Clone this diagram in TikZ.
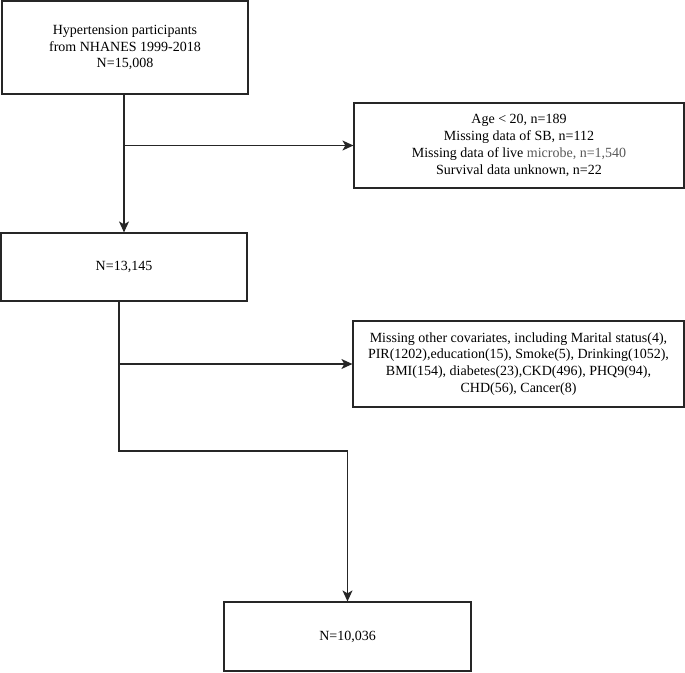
\documentclass[tikz,border=0pt]{standalone}
\usepackage{fontspec}
\setmainfont{Liberation Serif}
\usetikzlibrary{arrows.meta,calc}
\begin{document}
\begin{tikzpicture}[x=1pt,y=-1pt,
  boxnode/.style={draw=black!85,line width=1.2pt,align=center,inner sep=0pt,
    font=\fontsize{14}{16.8}\selectfont},
  arrowline/.style={draw=black!85,line width=1.2pt,-{Stealth[length=11pt,width=10pt,inset=3pt]}},
  plainline/.style={draw=black!85,line width=1.2pt}]
\useasboundingbox[fill=white] (0,0) rectangle (685,672);
\node[boxnode,minimum width=246pt,minimum height=93pt] (b1) at (125,47.5)
  {Hypertension participants\\from NHANES 1999-2018\\N=15,008};
\node[boxnode,minimum width=330pt,minimum height=85pt] (b2) at (519,145.5)
  {Age \textless{} 20, n=189\\Missing data of SB, n=112\\Missing data of live {\color{black!65}microbe, n=1,540}\\Survival data unknown, n=22};
\node[boxnode,minimum width=246pt,minimum height=68pt] (b3) at (124,267)
  {N=13,145};
\node[boxnode,minimum width=331pt,minimum height=86pt] (b4) at (518.5,364)
  {Missing other covariates, including Marital status(4),\\PIR(1202),education(15), Smoke(5), Drinking(1052),\\BMI(154), diabetes(23),CKD(496), PHQ9(94),\\CHD(56), Cancer(8)};
\node[boxnode,minimum width=247pt,minimum height=69pt] (b5) at (347.5,636.5)
  {N=10,036};
\coordinate (t1) at (124,94);
\coordinate (j) at (119,451);
\draw[arrowline] (t1) -- (t1 |- b3.north);
\draw[arrowline] (t1 |- b2.west) -- (b2.west);
\draw[arrowline] (b3.south -| j) -- (j) -| (b5.north);
\draw[arrowline] (j |- b4.west) -- (b4.west);
\end{tikzpicture}
\end{document}
